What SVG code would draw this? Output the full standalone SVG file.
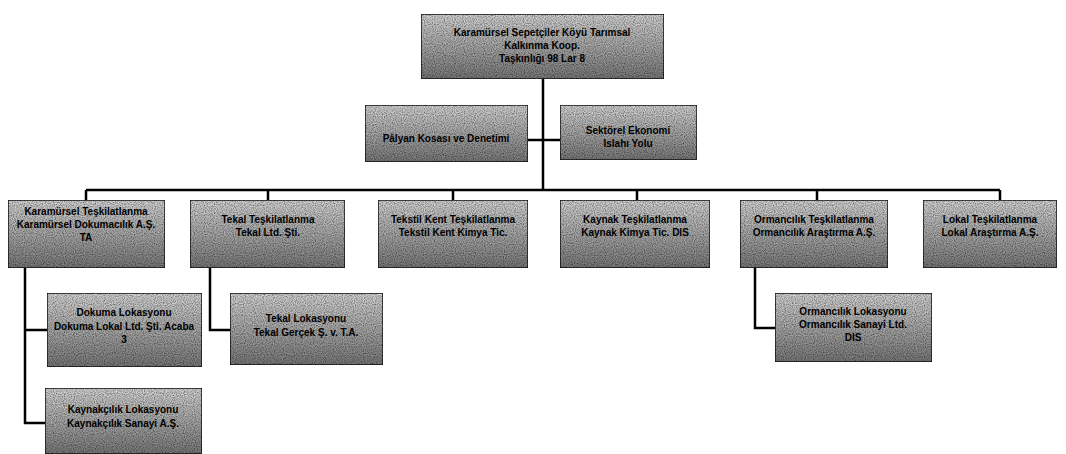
<svg xmlns="http://www.w3.org/2000/svg" width="1066" height="454" viewBox="0 0 1066 454">
<defs>
<linearGradient id="g" x1="0" y1="0" x2="0" y2="1">
<stop offset="0" stop-color="#d8d8d8"/>
<stop offset="0.5" stop-color="#ababab"/>
<stop offset="1" stop-color="#7a7a7a"/>
</linearGradient>
<filter id="grain" x="0" y="0" width="1" height="1">
<feTurbulence type="fractalNoise" baseFrequency="0.9" numOctaves="1" seed="3" result="n"/>
<feColorMatrix in="n" type="matrix" values="0 0 0 0 0  0 0 0 0 0  0 0 0 0 0  0 0 0 -1.6 1.1" result="a"/>
<feComposite in="a" in2="SourceGraphic" operator="in" result="dots"/>
<feMerge><feMergeNode in="SourceGraphic"/><feMergeNode in="dots"/></feMerge>
</filter>
</defs>
<style>
.box{fill:url(#g);stroke:#1a1a1a;stroke-width:1.5;filter:url(#grain)}
.t{font-family:"Liberation Sans",Arial,sans-serif;font-size:10px;font-weight:bold;fill:#000;text-anchor:middle}
.c{fill:none;stroke:#000;stroke-width:2.5}
</style>
<rect width="1066" height="454" fill="#fff"/>
<g id="connectors">
<path class="c" d="M543 79 V190"/>
<path class="c" d="M528 140 H560"/>
<path class="c" d="M86 190 H1000"/>
<path class="c" d="M86 190 V200 M268 190 V200 M453 190 V200 M637 190 V200 M817 190 V200 M1000 190 V200"/>
<path class="c" d="M25 268 V423 H45 M25 330 H47"/>
<path class="c" d="M210 268 V330 H230"/>
<path class="c" d="M755 268 V328 H775"/>
</g>
<g id="n_top"><rect class="box" x="421" y="14" width="243" height="65"/>
<text class="t" x="542" y="36">Karamürsel Sepetçiler Köyü Tarımsal</text>
<text class="t" x="542" y="49">Kalkınma Koop.</text>
<text class="t" x="542" y="62">Taşkınlığı 98 Lar 8</text></g>
<g id="n_a"><rect class="box" x="365" y="105" width="163" height="57"/>
<text class="t" x="446" y="142">Pâlyan Kosası ve Denetimi</text></g>
<g id="n_b"><rect class="box" x="560" y="105" width="137" height="55"/>
<text class="t" x="628" y="134">Sektörel Ekonomi</text>
<text class="t" x="628" y="147">Islahı Yolu</text></g>
<g id="n1"><rect class="box" x="8" y="200" width="157" height="68"/>
<text class="t" x="86" y="215">Karamürsel Teşkilatlanma</text>
<text class="t" x="86" y="228">Karamürsel Dokumacılık A.Ş.</text>
<text class="t" x="86" y="241">TA</text></g>
<g id="n2"><rect class="box" x="190" y="200" width="155" height="68"/>
<text class="t" x="268" y="223">Tekal Teşkilatlanma</text>
<text class="t" x="268" y="236">Tekal Ltd. Şti.</text></g>
<g id="n3"><rect class="box" x="378" y="200" width="150" height="68"/>
<text class="t" x="453" y="223">Tekstil Kent Teşkilatlanma</text>
<text class="t" x="453" y="236">Tekstil Kent Kimya Tic.</text></g>
<g id="n4"><rect class="box" x="560" y="200" width="150" height="68"/>
<text class="t" x="635" y="223">Kaynak Teşkilatlanma</text>
<text class="t" x="635" y="236">Kaynak Kimya Tic. DIS</text></g>
<g id="n5"><rect class="box" x="740" y="200" width="148" height="68"/>
<text class="t" x="814" y="223">Ormancılık Teşkilatlanma</text>
<text class="t" x="814" y="236">Ormancılık Araştırma A.Ş.</text></g>
<g id="n6"><rect class="box" x="923" y="200" width="134" height="68"/>
<text class="t" x="990" y="223">Lokal Teşkilatlanma</text>
<text class="t" x="990" y="236">Lokal Araştırma A.Ş.</text></g>
<g id="n1a"><rect class="box" x="47" y="293" width="155" height="74"/>
<text class="t" x="124" y="316">Dokuma Lokasyonu</text>
<text class="t" x="124" y="330">Dokuma Lokal Ltd. Şti. Acaba</text>
<text class="t" x="124" y="343">3</text></g>
<g id="n1b"><rect class="box" x="45" y="388" width="157" height="66"/>
<text class="t" x="123" y="413">Kaynakçılık Lokasyonu</text>
<text class="t" x="123" y="427">Kaynakçılık Sanayi A.Ş.</text></g>
<g id="n2a"><rect class="box" x="230" y="293" width="153" height="72"/>
<text class="t" x="306" y="322">Tekal Lokasyonu</text>
<text class="t" x="306" y="336">Tekal Gerçek Ş. v. T.A.</text></g>
<g id="n5a"><rect class="box" x="775" y="293" width="157" height="69"/>
<text class="t" x="853" y="315">Ormancılık Lokasyonu</text>
<text class="t" x="853" y="328">Ormancılık Sanayi Ltd.</text>
<text class="t" x="853" y="341">DIS</text></g>
</svg>
